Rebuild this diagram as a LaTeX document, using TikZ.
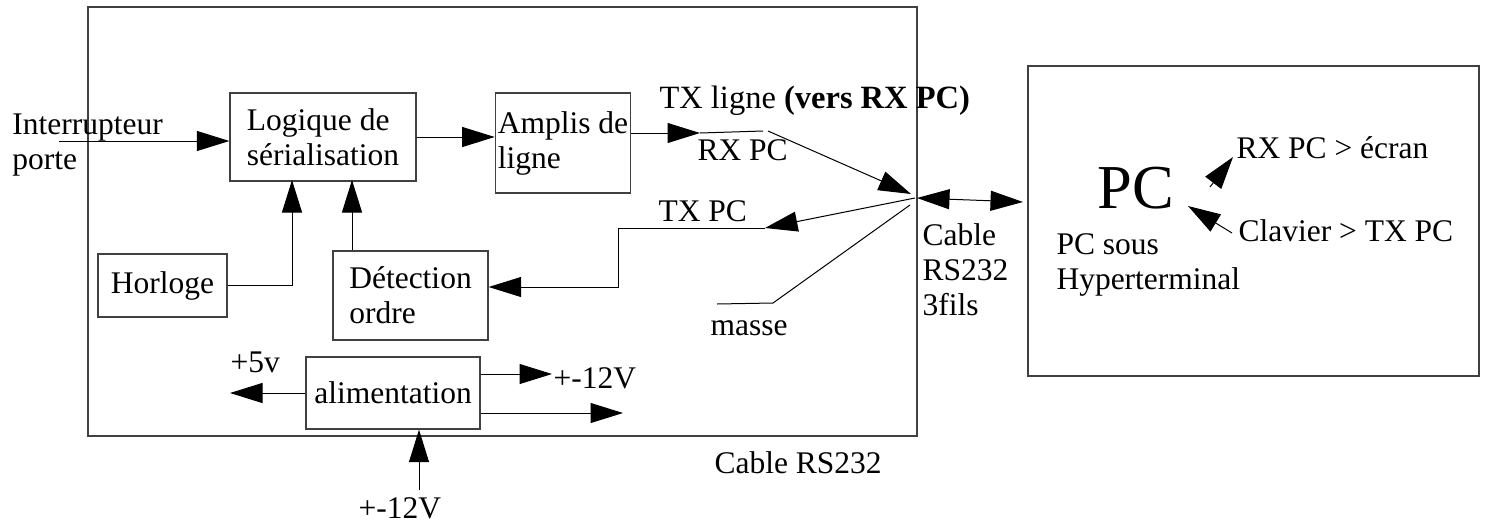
\documentclass[tikz,border=0pt]{standalone}
\usepackage{fontspec}
\setmainfont{Liberation Serif}
\usetikzlibrary{arrows.meta}

\begin{document}
\begin{tikzpicture}[x=0.4pt, y=-0.4pt, font=\fontsize{12.6pt}{14pt}\selectfont,
  blk/.style={draw=black!75, line width=0.5pt, inner sep=1pt, align=left},
  lbl/.style={inner sep=0pt, anchor=base west},
  wire/.style={line width=0.4pt},
  arr/.style={wire, -{Triangle[length=13pt, width=8pt]}}]
  \useasboundingbox (0,0) rectangle (1485,527);
  % housings: cable electronics and PC
  \draw[draw=black!75, line width=0.5pt] (88,7) rectangle (917,436);
  \draw[draw=black!75, line width=0.5pt] (1028,66) rectangle (1479,376);

  % blocks inside the cable
  \node[blk, minimum width=74.4pt, minimum height=35.2pt] (logique) at (323,137) {Logique de\\sérialisation};
  \node[blk, minimum width=53.6pt, minimum height=40pt] (amplis) at (563,143) {Amplis de\\ligne};
  \node[blk, minimum width=51.6pt, minimum height=25.2pt] (horloge) at (162.5,285.5) {Horloge};
  \node[blk, minimum width=62pt, minimum height=35.6pt] (detection) at (410.5,295.5) {Détection\\ordre};
  \node[blk, minimum width=69.6pt, minimum height=28.8pt] (alim) at (393,393) {alimentation};

  % free ends of the wires
  \coordinate (inter) at (59,141);
  \coordinate (clkin) at (292,180);
  \coordinate (detin) at (352,180);
  \coordinate (txtip) at (700,133);
  \coordinate (txend) at (763,131);
  \coordinate (rxstart) at (768,131);
  \coordinate (rxtip) at (911,194);
  \coordinate (jct) at (915,198);
  \coordinate (txpctip) at (765,228);
  \coordinate (bendA) at (618,228);
  \coordinate (bendB) at (618,287);
  \coordinate (gndA) at (910,205);
  \coordinate (gndB) at (773,303);
  \coordinate (gndC) at (717,304);
  \coordinate (cablejct) at (917,198);
  \coordinate (pcin) at (1023,202);
  \coordinate (v5tip) at (230,393);
  \coordinate (v12tip) at (552,374);
  \coordinate (auxtip) at (623,413);
  \coordinate (pwrin) at (419,490);
  \coordinate (rxfrom) at (1210,187);
  \coordinate (rxto) at (1233,157);
  \coordinate (clfrom) at (1232,233);
  \coordinate (clto) at (1188,206);

  % labels
  \node[inner sep=0pt, anchor=west, align=left] (interlbl) at (12,145) {Interrupteur\\porte};
  \node[lbl, font=\fontsize{13pt}{15pt}\selectfont] (txligne) at (659,108) {TX ligne \textbf{(vers RX PC)}};
  \node[lbl] (rxpc) at (697,160) {RX PC};
  \node[lbl] (txpc) at (658,221) {TX PC};
  \node[lbl] (masse) at (710,335) {masse};
  \node[inner sep=0pt, anchor=west, align=left] (cable3) at (922,270) {Cable\\RS232\\3fils};
  \node[lbl] (v5) at (230,372) {+5v};
  \node[lbl] (v12out) at (553,388) {+-12V};
  \node[lbl] (v12in) at (358,518) {+-12V};
  \node[lbl] (cablelbl) at (714,473) {Cable RS232};
  \node[lbl, font=\fontsize{25pt}{28pt}\selectfont] (pc) at (1097,208) {PC};
  \node[lbl] (ecran) at (1236,158) {RX PC > écran};
  \node[lbl] (clavier) at (1238,241) {Clavier > TX PC};
  \node[inner sep=0pt, anchor=west, align=left] (hyper) at (1056,265) {PC sous\\Hyperterminal};

  % signal path
  \draw[arr] (inter) -- (inter -| logique.west);
  \draw[arr] (logique.east) -- (logique.east -| amplis.west);
  \draw[arr] (horloge.east) -| (clkin);
  \draw[arr] (detection.north -| detin) -- (detin);
  \draw[arr] (amplis.east |- txtip) -- (txtip);
  \draw[wire] (txtip) -- (txend);
  \draw[arr] (rxstart) -- (rxtip);
  \draw[arr] (jct) -- (txpctip);
  \draw[arr] (txpctip) -- (bendA) -- (bendB) -- (bendB -| detection.east);
  \draw[wire] (gndA) -- (gndB) -- (gndC);
  \draw[wire, {Triangle[length=13pt, width=8pt]}-{Triangle[length=13pt, width=8pt]}] (cablejct) -- (pcin);

  % power supply
  \draw[arr] (alim.west) -- (v5tip);
  \draw[arr] (alim.east |- v12tip) -- (v12tip);
  \draw[arr] (alim.east |- auxtip) -- (auxtip);
  \draw[arr] (pwrin) -- (alim.south -| pwrin);

  % inside the PC
  \draw[arr] (rxfrom) -- (rxto);
  \draw[arr] (clfrom) -- (clto);
\end{tikzpicture}
\end{document}
